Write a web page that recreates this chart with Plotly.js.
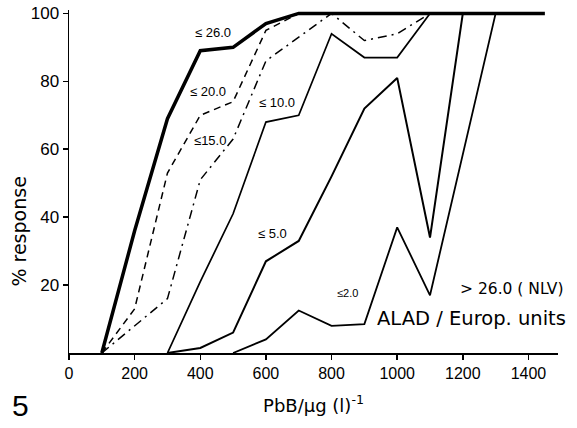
<!DOCTYPE html>
<html>
<head>
<meta charset="utf-8">
<script src="https://cdn.plot.ly/plotly-3.0.1.min.js"></script>
<style>html,body{margin:0;padding:0;background:#fff;}#chart{width:577px;height:428px;}</style>
</head>
<body>
<div id="chart"></div>
<script>
// PbB (µg/l) and % response for each ALAD threshold (Europ. units)
const x26 = [100, 200, 300, 400, 500, 600, 700, 1450];
const y26 = [0, 36, 69, 89, 90, 97, 100, 100];
const x20 = [100, 200, 300, 400, 500, 600, 700];
const y20 = [0, 13, 53, 70, 74, 95, 100];
const x15 = [100, 200, 300, 400, 500, 600, 700, 800, 900, 1000, 1100];
const y15 = [0, 8, 16, 51, 63, 86, 93, 100, 92, 94, 100];
const x10 = [300, 400, 500, 600, 700, 800, 900, 1000, 1100];
const y10 = [0, 21, 41, 68, 70, 94, 87, 87, 100];
const x5 = [300, 400, 500, 600, 700, 800, 900, 1000, 1100, 1200];
const y5 = [0, 1.5, 6, 27, 33, 52, 72, 81, 34, 100];
const x2 = [500, 600, 700, 800, 900, 1000, 1100, 1300];
const y2 = [0, 4, 12.5, 8, 8.5, 37, 17, 100];

const seriesNames = ['≤ 26.0', '≤ 20.0', '≤15.0', '≤ 10.0', '≤ 5.0', '≤2.0'];
const xTicks = [0, 200, 400, 600, 800, 1000, 1200, 1400];
const yTicks = [20, 40, 60, 80, 100];

const FONT = 'Liberation Sans, Arial, sans-serif';
const WIDE = 'DejaVu Sans, sans-serif';

function tr(x, y, name, width, dash) {
  return {x: x, y: y, name: name, type: 'scatter', mode: 'lines',
    line: {color: '#000', width: width, dash: dash}, hoverinfo: 'skip'};
}

const data = [
  tr(x2, y2, seriesNames[5], 1.8, 'solid'),
  tr(x5, y5, seriesNames[4], 2, 'solid'),
  tr(x10, y10, seriesNames[3], 1.7, 'solid'),
  tr(x15, y15, seriesNames[2], 1.5, '9px,5px,2px,5px'),
  tr(x20, y20, seriesNames[1], 1.5, '7px,5px'),
  tr(x26, y26, seriesNames[0], 3.5, 'solid')
];

function lab(text, x, y, size, anchor, fam) {
  return {text: text, x: x, y: y, xref: 'x', yref: 'y', showarrow: false,
    xanchor: anchor || 'center', yanchor: 'middle', font: {family: fam || FONT, size: size, color: '#000'}};
}

const layout = {
  width: 577, height: 428,
  margin: {l: 68.6, r: 19.4, t: 10, b: 75, pad: 0},
  paper_bgcolor: '#fff', plot_bgcolor: '#fff',
  showlegend: false,
  font: {family: FONT, color: '#000'},
  xaxis: {
    range: [0, 1490], tickvals: xTicks, ticktext: xTicks.map(String),
    showgrid: false, zeroline: false, showline: true, linewidth: 2, linecolor: '#000',
    ticks: 'outside', ticklen: 5, tickwidth: 1.5, tickcolor: '#000',
    tickfont: {family: FONT, size: 16, color: '#000'},
    title: {text: 'PbB/μg (l)<sup>-1</sup>', font: {family: WIDE, size: 18, color: '#000'}, standoff: 18}
  },
  yaxis: {
    range: [0, 101], tickvals: yTicks, ticktext: yTicks.map(String),
    showgrid: false, zeroline: false, showline: true, linewidth: 1.5, linecolor: '#000',
    ticks: 'outside', ticklen: 5, tickwidth: 1.5, tickcolor: '#000',
    tickfont: {family: FONT, size: 17, color: '#000'}
  },
  annotations: [
    lab('≤ 26.0', 440, 94.3, 13),
    lab('≤ 20.0', 425, 76.9, 13),
    lab('≤15.0', 431, 62.7, 13),
    lab('≤ 10.0', 635, 73.9, 13),
    lab('≤ 5.0', 620, 35.3, 13),
    lab('≤2.0', 848, 17.7, 11),
    lab('> 26.0 ( NLV)', 1186, 18.9, 15.5, 'left', WIDE),
    lab('ALAD / Europ. units', 933, 10.3, 19.5, 'left', WIDE),
    {text: '% response', xref: 'paper', yref: 'paper', x: -0.103, y: 0.353, textangle: -90,
      showarrow: false, xanchor: 'center', yanchor: 'middle',
      font: {family: WIDE, size: 19, color: '#000'}},
    {text: '5', xref: 'paper', yref: 'paper', x: -0.099, y: -0.152, showarrow: false,
      xanchor: 'center', yanchor: 'middle', font: {family: FONT, size: 30, color: '#000'}}
  ]
};

Plotly.newPlot('chart', data, layout, {displayModeBar: false, staticPlot: true});
</script>
</body>
</html>
